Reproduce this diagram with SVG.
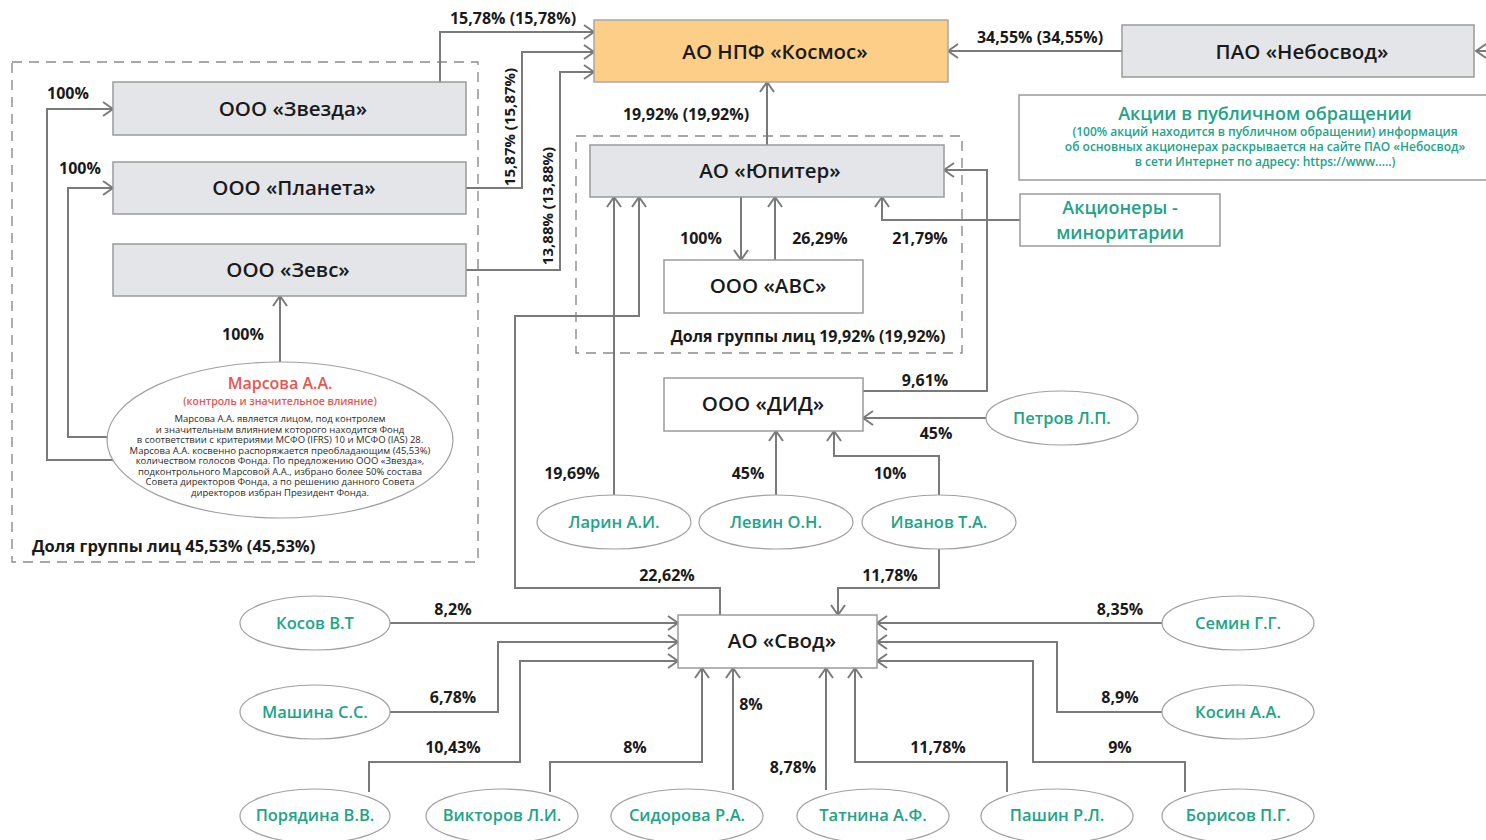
<svg xmlns="http://www.w3.org/2000/svg" width="1486" height="840" viewBox="0 0 1486 840">
<defs>
<style>
.bg{fill:#ffffff}
.gbox{fill:#e3e5e8;stroke:#9a9a9a;stroke-width:1.5}
.wbox{fill:#ffffff;stroke:#9a9a9a;stroke-width:1.5}
.obox{fill:#fdce88;stroke:#a8a8a8;stroke-width:1.5}
.ell{fill:#ffffff;stroke:#a0a0a0;stroke-width:1.2}
.dash{fill:none;stroke:#8c8c8c;stroke-width:1.4;stroke-dasharray:10 7}
.arr{fill:none;stroke:#7a7a7a;stroke-width:2;marker-end:url(#ah)}
text{font-family:"Open Sans","Liberation Sans",sans-serif}
.nt{font-size:20.5px;font-weight:600;fill:#1a1a1a;text-anchor:middle}
.lb{font-size:16px;font-weight:700;fill:#1a1a1a;text-anchor:middle}
.pn{font-size:16.5px;font-weight:600;fill:#22a387;text-anchor:middle}
.tl{fill:#22a387;text-anchor:middle;font-weight:600}
.rd{fill:#e8564f;text-anchor:middle;font-weight:600}
.sm{font-size:9.5px;fill:#2a2a2a;text-anchor:middle}
</style>
<marker id="ah" viewBox="0 0 12 16" refX="11" refY="8" markerWidth="12" markerHeight="16" markerUnits="userSpaceOnUse" orient="auto">
<path d="M1,1 L11,8 L1,15" fill="none" stroke="#7a7a7a" stroke-width="2"/>
</marker>
</defs>
<rect class="bg" x="0" y="0" width="1486" height="840"/>

<g id="groups">
<rect class="dash" x="12" y="62" width="466" height="500"/>
<rect class="dash" x="576" y="136" width="386" height="217"/>
<text x="32" y="552" style="font-size:16.5px;font-weight:700;fill:#1a1a1a">Доля группы лиц 45,53% (45,53%)</text>
<text x="808" y="342" class="lb">Доля группы лиц 19,92% (19,92%)</text>
</g>

<g id="connectors">
<path class="arr" d="M440,82 V32 H594"/>
<path class="arr" d="M466,188 H522 V52 H594"/>
<path class="arr" d="M466,270 H560 V72 H594"/>
<path class="arr" d="M1122,51 H948"/>
<path class="arr" d="M1500,51 H1476"/>
<path class="arr" d="M767,145 V82"/>
<path class="arr" d="M113,460 H47 V109 H113"/>
<path class="arr" d="M108,437 H68 V188 H113"/>
<path class="arr" d="M280,362 V296"/>
<path class="arr" d="M741,197 V260"/>
<path class="arr" d="M775,260 V197"/>
<path class="arr" d="M1020,220 H882 V197"/>
<path class="arr" d="M863,391 H987 V170 H944"/>
<path class="arr" d="M986,418 H863"/>
<path class="arr" d="M614,495 V197"/>
<path class="arr" d="M720,615 V588 H515 V316 H639 V197"/>
<path class="arr" d="M776,495 V431"/>
<path class="arr" d="M939,495 V456 H834 V431"/>
<path class="arr" d="M939,549 V588 H838 V615"/>
<path class="arr" d="M390,623 H678"/>
<path class="arr" d="M390,712 H498 V642 H678"/>
<path class="arr" d="M369,792 V762 H520 V661 H678"/>
<path class="arr" d="M550,792 V762 H702 V668"/>
<path class="arr" d="M733,790 V668"/>
<path class="arr" d="M826,790 V668"/>
<path class="arr" d="M1007,792 V762 H855 V668"/>
<path class="arr" d="M1185,792 V762 H1033 V661 H877"/>
<path class="arr" d="M1163,712 H1057 V642 H877"/>
<path class="arr" d="M1163,623 H877"/>

<text x="513" y="24" class="lb">15,78% (15,78%)</text>
<text class="lb" style="font-size:15px" transform="translate(515,127) rotate(-90)">15,87% (15,87%)</text>
<text class="lb" style="font-size:15px" transform="translate(553,206) rotate(-90)">13,88% (13,88%)</text>
<text x="1040" y="43" class="lb">34,55% (34,55%)</text>
<text x="686" y="120" class="lb">19,92% (19,92%)</text>
<text x="68" y="99" class="lb">100%</text>
<text x="80" y="174" class="lb">100%</text>
<text x="243" y="340" class="lb">100%</text>
<text x="701" y="244" class="lb">100%</text>
<text x="820" y="244" class="lb">26,29%</text>
<text x="920" y="244" class="lb">21,79%</text>
<text x="925" y="386" class="lb">9,61%</text>
<text x="936" y="439" class="lb">45%</text>
<text x="572" y="479" class="lb">19,69%</text>
<text x="748" y="479" class="lb">45%</text>
<text x="890" y="479" class="lb">10%</text>
<text x="667" y="581" class="lb">22,62%</text>
<text x="890" y="581" class="lb">11,78%</text>
<text x="453" y="615" class="lb">8,2%</text>
<text x="1120" y="615" class="lb">8,35%</text>
<text x="453" y="703" class="lb">6,78%</text>
<text x="1120" y="703" class="lb">8,9%</text>
<text x="751" y="710" class="lb">8%</text>
<text x="453" y="753" class="lb">10,43%</text>
<text x="635" y="753" class="lb">8%</text>
<text x="938" y="753" class="lb">11,78%</text>
<text x="1120" y="753" class="lb">9%</text>
<text x="793" y="773" class="lb">8,78%</text>
</g>

<g id="kosmos"><rect class="obox" x="594" y="20" width="354" height="62"/><text x="775" y="59" class="nt">АО НПФ «Космос»</text></g>
<g id="nebosvod"><rect class="gbox" x="1122" y="25" width="352" height="52"/><text x="1302" y="59" class="nt">ПАО «Небосвод»</text></g>
<g id="public"><rect class="wbox" x="1019" y="95" width="480" height="85"/>
<text x="1265" y="120" class="tl" style="font-size:18px">Акции в публичном обращении</text>
<text x="1265" y="136" class="tl" style="font-size:12px">(100% акций находится в публичном обращении) информация</text>
<text x="1265" y="151" class="tl" style="font-size:12px">об основных акционерах раскрывается на сайте ПАО «Небосвод»</text>
<text x="1265" y="166" class="tl" style="font-size:12px">в сети Интернет по адресу: https://www.....)</text>
</g>
<g id="zvezda"><rect class="gbox" x="113" y="82" width="353" height="53"/><text x="293" y="116" class="nt">ООО «Звезда»</text></g>
<g id="planeta"><rect class="gbox" x="113" y="162" width="353" height="52"/><text x="294" y="195" class="nt">ООО «Планета»</text></g>
<g id="zevs"><rect class="gbox" x="113" y="244" width="353" height="52"/><text x="288" y="277" class="nt">ООО «Зевс»</text></g>
<g id="marsova"><ellipse class="ell" cx="280" cy="440" rx="173" ry="78"/>
<text x="280" y="389" class="rd" style="font-size:16px">Марсова А.А.</text>
<text x="280" y="405" class="rd" style="font-size:10.5px">(контроль и значительное влияние)</text>
<text x="280" y="422" class="sm">Марсова А.А. является лицом, под контролем</text>
<text x="280" y="432.5" class="sm">и значительным влиянием которого находится Фонд</text>
<text x="280" y="443" class="sm">в соответствии с критериями МСФО (IFRS) 10 и МСФО (IAS) 28.</text>
<text x="280" y="453.5" class="sm">Марсова А.А. косвенно распоряжается преобладающим (45,53%)</text>
<text x="280" y="464" class="sm">количеством голосов Фонда. По предложению ООО «Звезда»,</text>
<text x="280" y="474.5" class="sm">подконтрольного Марсовой А.А., избрано более 50% состава</text>
<text x="280" y="485" class="sm">Совета директоров Фонда, а по решению данного Совета</text>
<text x="280" y="495.5" class="sm">директоров избран Президент Фонда.</text>
</g>
<g id="jupiter"><rect class="gbox" x="590" y="145" width="354" height="52"/><text x="770" y="178" class="nt">АО «Юпитер»</text></g>
<g id="abc"><rect class="wbox" x="664" y="260" width="199" height="53"/><text x="768" y="293" class="nt">ООО «АВС»</text></g>
<g id="minor"><rect class="wbox" x="1020" y="194" width="200" height="52"/>
<text x="1120" y="214" class="tl" style="font-size:18px">Акционеры -</text>
<text x="1120" y="239" class="tl" style="font-size:18px">миноритарии</text></g>
<g id="did"><rect class="wbox" x="664" y="378" width="199" height="53"/><text x="763" y="411" class="nt">ООО «ДИД»</text></g>
<g id="petrov"><ellipse class="ell" cx="1062" cy="418" rx="76" ry="27"/><text x="1062" y="424" class="pn">Петров Л.П.</text></g>
<g id="larin"><ellipse class="ell" cx="614" cy="522" rx="77" ry="27"/><text x="614" y="528" class="pn">Ларин А.И.</text></g>
<g id="levin"><ellipse class="ell" cx="776" cy="522" rx="77" ry="27"/><text x="776" y="528" class="pn">Левин О.Н.</text></g>
<g id="ivanov"><ellipse class="ell" cx="939" cy="522" rx="77" ry="27"/><text x="939" y="528" class="pn">Иванов Т.А.</text></g>
<g id="svod"><rect class="wbox" x="678" y="615" width="199" height="53"/><text x="782" y="648" class="nt">АО «Свод»</text></g>
<g id="kosov"><ellipse class="ell" cx="315" cy="623" rx="75" ry="27"/><text x="315" y="629" class="pn">Косов В.Т</text></g>
<g id="mashina"><ellipse class="ell" cx="315" cy="712" rx="75" ry="27"/><text x="315" y="718" class="pn">Машина С.С.</text></g>
<g id="poryadina"><ellipse class="ell" cx="315" cy="816" rx="75" ry="27"/><text x="315" y="821" class="pn">Порядина В.В.</text></g>
<g id="viktorov"><ellipse class="ell" cx="502" cy="816" rx="76" ry="27"/><text x="502" y="821" class="pn">Викторов Л.И.</text></g>
<g id="sidorova"><ellipse class="ell" cx="687" cy="816" rx="76" ry="27"/><text x="687" y="821" class="pn">Сидорова Р.А.</text></g>
<g id="tatnina"><ellipse class="ell" cx="873" cy="816" rx="76" ry="27"/><text x="873" y="821" class="pn">Татнина А.Ф.</text></g>
<g id="pashin"><ellipse class="ell" cx="1057" cy="816" rx="76" ry="27"/><text x="1057" y="821" class="pn">Пашин Р.Л.</text></g>
<g id="borisov"><ellipse class="ell" cx="1238" cy="816" rx="76" ry="27"/><text x="1238" y="821" class="pn">Борисов П.Г.</text></g>
<g id="kosin"><ellipse class="ell" cx="1238" cy="712" rx="76" ry="27"/><text x="1238" y="718" class="pn">Косин А.А.</text></g>
<g id="semin"><ellipse class="ell" cx="1238" cy="623" rx="76" ry="27"/><text x="1238" y="629" class="pn">Семин Г.Г.</text></g>
</svg>
